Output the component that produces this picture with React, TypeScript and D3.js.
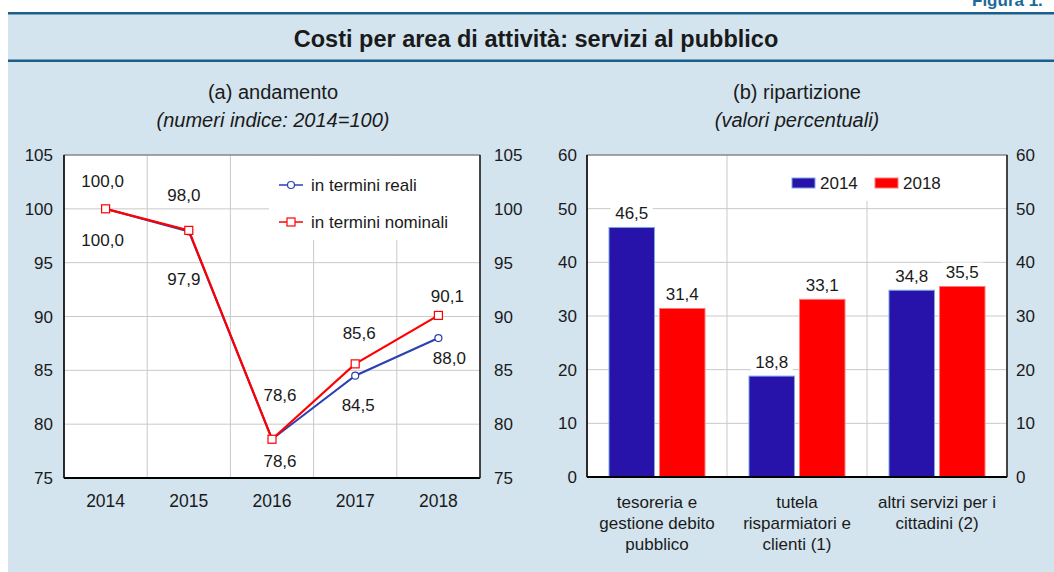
import React from "react";
import * as d3 from "d3";

const years = ["2014", "2015", "2016", "2017", "2018"];
const realValues = [100.0, 97.9, 78.6, 84.5, 88.0];
const nominalValues = [100.0, 98.0, 78.6, 85.6, 90.1];
const leftTicks = [75, 80, 85, 90, 95, 100, 105];

const categories = [
  ["tesoreria e", "gestione debito", "pubblico"],
  ["tutela", "risparmiatori e", "clienti (1)"],
  ["altri servizi per i", "cittadini (2)"],
];
const barSeries = ["2014", "2018"];
const bars2014 = [46.5, 18.8, 34.8];
const bars2018 = [31.4, 33.1, 35.5];
const rightTicks = [0, 10, 20, 30, 40, 50, 60];

// label placement (styling only)
const nomLabelDx = [-3, -5, 8, 4, 9];
const nomLabelDy = [-28, -35, -44, -31, -19];
const realLabelDx = [-3, -5, 8, 3, 11];
const realLabelDy = [31, 48, 22, 29, 20];

const FONT = "'Liberation Sans', Arial, Helvetica, sans-serif";
const TXT = "#1a1a1a";
const BG = "#d3e4ee";
const DARK = "#1b5e88";
const BLUE_LINE = "#2c3fb3";
const RED = "#ff0000";
const BAR_BLUE = "#2813aa";
const GRID = "#c9c9c9";

const fmt = (v: number) => v.toFixed(1).replace(".", ",");

export default function App() {
  // left chart
  const L = { x0: 64, x1: 480, y0: 155, y1: 478 };
  const xL = d3.scaleBand<string>().domain(years).range([L.x0, L.x1]).padding(0);
  const yL = d3.scaleLinear().domain([75, 105]).range([L.y1, L.y0]);
  const cx = (i: number) => (xL(years[i]) as number) + xL.bandwidth() / 2;
  const line = d3
    .line<number>()
    .x((_, i) => cx(i))
    .y((d) => yL(d));

  // right chart
  const R = { x0: 587, x1: 1007, y0: 155, y1: 477 };
  const catKeys = categories.map((_, i) => String(i));
  const xR = d3.scaleBand<string>().domain(catKeys).range([R.x0, R.x1]).padding(0);
  const xInner = d3.scaleBand<string>().domain(barSeries).range([22, xR.bandwidth() - 22]).paddingInner(0.1);
  const yR = d3.scaleLinear().domain([0, 60]).range([R.y1, R.y0]);
  const barData = [bars2014, bars2018];
  const barFill = [BAR_BLUE, RED];
  const barStroke = ["#79a6e6", "#ff7a7a"];

  return (
    <svg
      width={1054}
      height={572}
      style={{ position: "absolute", left: 0, top: 0, background: "#fff" }}
      fontFamily={FONT}
    >
      <rect x={8} y={13} width={1046} height={559} fill={BG} />
      <rect x={8} y={12} width={1046} height={2.5} fill={DARK} />
      <rect x={8} y={59.5} width={1046} height={2.5} fill={DARK} />
      <text x={972} y={6} fontSize={17} fontWeight="bold" fill="#1a6a98">
        Figura 1.
      </text>
      <text x={536} y={47} textAnchor="middle" fontSize={23.5} fontWeight="bold" fill={TXT}>
        Costi per area di attività: servizi al pubblico
      </text>

      {/* subtitles */}
      <text x={273} y={99} textAnchor="middle" fontSize={20} fill={TXT}>
        (a) andamento
      </text>
      <text x={273} y={127} textAnchor="middle" fontSize={20} fontStyle="italic" fill={TXT}>
        (numeri indice: 2014=100)
      </text>
      <text x={797} y={99} textAnchor="middle" fontSize={20} fill={TXT}>
        (b) ripartizione
      </text>
      <text x={797} y={127} textAnchor="middle" fontSize={20} fontStyle="italic" fill={TXT}>
        (valori percentuali)
      </text>

      {/* LEFT CHART */}
      <rect x={L.x0} y={L.y0} width={L.x1 - L.x0} height={L.y1 - L.y0} fill="#fff" />
      {leftTicks.map((t) => (
        <line key={"gl" + t} x1={L.x0} x2={L.x1} y1={yL(t)} y2={yL(t)} stroke={GRID} strokeWidth={1} />
      ))}
      {years.slice(1).map((y) => (
        <line key={"gv" + y} x1={xL(y)} x2={xL(y)} y1={L.y0} y2={L.y1} stroke={GRID} strokeWidth={1} />
      ))}
      {/* legend box */}
      <rect x={269} y={156} width={210} height={84} fill="#fff" />
      <line x1={279} x2={303} y1={185} y2={185} stroke={BLUE_LINE} strokeWidth={1.5} />
      <circle cx={291} cy={185} r={3.5} fill="#fff" stroke={BLUE_LINE} strokeWidth={1.2} />
      <text x={311} y={191} fontSize={17} fill={TXT}>
        in termini reali
      </text>
      <line x1={279} x2={303} y1={222} y2={222} stroke={RED} strokeWidth={1.5} />
      <rect x={287} y={218} width={8} height={8} fill="#fff" stroke={RED} strokeWidth={1.2} />
      <text x={311} y={228} fontSize={17} fill={TXT}>
        in termini nominali
      </text>

      <rect x={L.x0} y={L.y0} width={L.x1 - L.x0} height={L.y1 - L.y0} fill="none" stroke="#666" strokeWidth={1} />
      <line x1={L.x0} x2={L.x0} y1={L.y0} y2={L.y1} stroke="#000" strokeWidth={1.5} />
      <line x1={L.x0} x2={L.x1} y1={L.y1} y2={L.y1} stroke="#000" strokeWidth={2} />
      <line x1={L.x1} x2={L.x1} y1={L.y0} y2={L.y1} stroke="#222" strokeWidth={1.5} />

      <path d={line(realValues) || ""} fill="none" stroke={BLUE_LINE} strokeWidth={2} />
      <path d={line(nominalValues) || ""} fill="none" stroke={RED} strokeWidth={2.2} />
      {realValues.map((v, i) => (
        <circle key={"rc" + i} cx={cx(i)} cy={yL(v)} r={3.5} fill="#fff" stroke={BLUE_LINE} strokeWidth={1.2} />
      ))}
      {nominalValues.map((v, i) => (
        <rect key={"ns" + i} x={cx(i) - 4} y={yL(v) - 4} width={8} height={8} fill="#fff" stroke={RED} strokeWidth={1.2} />
      ))}
      {nominalValues.map((v, i) => (
        <text key={"nl" + i} x={cx(i) + nomLabelDx[i]} y={yL(v) + nomLabelDy[i] + 6} textAnchor="middle" fontSize={17} fill={TXT}>
          {fmt(v)}
        </text>
      ))}
      {realValues.map((v, i) => (
        <text key={"rl" + i} x={cx(i) + realLabelDx[i]} y={yL(v) + realLabelDy[i] + 6} textAnchor="middle" fontSize={17} fill={TXT}>
          {fmt(v)}
        </text>
      ))}

      {leftTicks.map((t) => (
        <g key={"lt" + t}>
          <text x={53} y={yL(t) + 6} textAnchor="end" fontSize={17} fill={TXT}>
            {t}
          </text>
          <text x={494} y={yL(t) + 6} textAnchor="start" fontSize={17} fill={TXT}>
            {t}
          </text>
        </g>
      ))}
      {years.map((y, i) => (
        <text key={"xl" + y} x={cx(i)} y={507} textAnchor="middle" fontSize={17.5} fill={TXT}>
          {y}
        </text>
      ))}

      {/* RIGHT CHART */}
      <rect x={R.x0} y={R.y0} width={R.x1 - R.x0} height={R.y1 - R.y0} fill="#fff" />
      {rightTicks.map((t) => (
        <line key={"rg" + t} x1={R.x0} x2={R.x1} y1={yR(t)} y2={yR(t)} stroke={GRID} strokeWidth={1} />
      ))}
      {catKeys.slice(1).map((k) => (
        <line key={"rv" + k} x1={xR(k)} x2={xR(k)} y1={R.y0} y2={R.y1} stroke={GRID} strokeWidth={1} />
      ))}
      {/* legend */}
      <rect x={786} y={156} width={214} height={45} fill="#fff" />
      <rect x={792} y={178} width={23} height={10} fill={BAR_BLUE} stroke={barStroke[0]} strokeWidth={1} />
      <text x={820} y={189} fontSize={17} fill={TXT}>
        2014
      </text>
      <rect x={875} y={178} width={23} height={10} fill={RED} stroke={barStroke[1]} strokeWidth={1} />
      <text x={903} y={189} fontSize={17} fill={TXT}>
        2018
      </text>

      {barData.map((series, s) =>
        series.map((v, i) => {
          const x = (xR(catKeys[i]) as number) + (xInner(barSeries[s]) as number);
          const w = xInner.bandwidth();
          return (
            <rect
              key={"b" + s + i}
              x={x}
              y={yR(v)}
              width={w}
              height={R.y1 - yR(v)}
              fill={barFill[s]}
              stroke={barStroke[s]}
              strokeWidth={1}
            />
          );
        })
      )}
      {barData.map((series, s) =>
        series.map((v, i) => {
          const x = (xR(catKeys[i]) as number) + (xInner(barSeries[s]) as number) + xInner.bandwidth() / 2;
          const cy = yR(v) - 14;
          return (
            <g key={"bl" + s + i}>
              <rect x={x - 21} y={cy - 10} width={42} height={20} fill="#fff" />
              <text x={x} y={cy + 6} textAnchor="middle" fontSize={17} fill={TXT}>
                {fmt(v)}
              </text>
            </g>
          );
        })
      )}

      <rect x={R.x0} y={R.y0} width={R.x1 - R.x0} height={R.y1 - R.y0} fill="none" stroke="#666" strokeWidth={1} />
      <line x1={R.x0} x2={R.x0} y1={R.y0} y2={R.y1} stroke="#000" strokeWidth={1.5} />
      <line x1={R.x0} x2={R.x1} y1={R.y1} y2={R.y1} stroke="#000" strokeWidth={2} />
      <line x1={R.x1} x2={R.x1} y1={R.y0} y2={R.y1} stroke="#222" strokeWidth={1.5} />

      {rightTicks.map((t) => (
        <g key={"rt" + t}>
          <text x={577} y={yR(t) + 6} textAnchor="end" fontSize={17} fill={TXT}>
            {t}
          </text>
          <text x={1016} y={yR(t) + 6} textAnchor="start" fontSize={17} fill={TXT}>
            {t}
          </text>
        </g>
      ))}
      {categories.map((lines, i) => {
        const x = (xR(catKeys[i]) as number) + xR.bandwidth() / 2;
        return (
          <text key={"cat" + i} x={x} textAnchor="middle" fontSize={17} fill={TXT}>
            {lines.map((ln, j) => (
              <tspan key={j} x={x} y={508 + j * 21}>
                {ln}
              </tspan>
            ))}
          </text>
        );
      })}
    </svg>
  );
}
